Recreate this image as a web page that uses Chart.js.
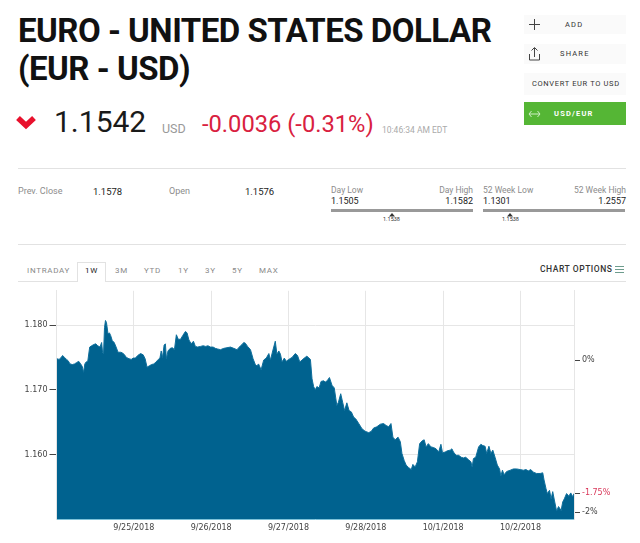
<!DOCTYPE html>
<html>
<head>
<meta charset="utf-8">
<title>EUR - USD</title>
<script src="https://cdn.jsdelivr.net/npm/chart.js@4"></script>
<style>
  html, body { margin: 0; padding: 0; background: #fff; }
  body { width: 640px; height: 543px; position: relative; overflow: hidden; font-family: Roboto, sans-serif; }
  .t { position: absolute; white-space: nowrap; line-height: 1; }
  .title { left: 18px; font-size: 33px; font-weight: 700; color: #111; letter-spacing: -0.5px; }
  .btn { position: absolute; left: 524px; width: 102px; background: #fafafa; font-size: 7.5px; letter-spacing: 1.2px; color: #333; }
  .btn span { position: absolute; white-space: nowrap; line-height: 1; }
  .lab { color: #8c8c8c; font-size: 9px; }
  .val { color: #222; font-size: 9.5px; }
  .hr { position: absolute; left: 18px; width: 608px; height: 1px; background: #e2e2e2; }
  .bar { position: absolute; top: 209px; height: 3px; background: #999; }
  .tab { color: #8a8a8a; font-size: 8px; letter-spacing: .7px; top: 267px; }
  #wrap { position: absolute; left: 0; top: 284px; width: 640px; height: 259px; }
  canvas { display: block; }
</style>
</head>
<body>
<div class="t title" style="top:14px">EURO - UNITED STATES DOLLAR</div>
<div class="t title" style="top:52px">(EUR - USD)</div>

<svg style="position:absolute;left:16px;top:114px" width="20" height="16"><polyline points="2,4 10,11.500 18,4" fill="none" stroke="#e8112d" stroke-width="5.500"/></svg>
<div class="t" style="left:54px;top:107px;font-size:30px;color:#1a1a1a">1.1542</div>
<div class="t" style="left:162px;top:123px;font-size:12.500px;color:#999">USD</div>
<div class="t" style="left:202px;top:113px;font-size:23.700px;color:#d9213f">-0.0036 (-0.31%)</div>
<div class="t" style="left:382px;top:126px;font-size:8.500px;color:#aaa">10:46:34 AM EDT</div>

<div class="btn" style="top:15px;height:19px"><span style="left:41px;top:6px">ADD</span></div>
<svg style="position:absolute;left:528px;top:18px" width="14" height="14"><path d="M1 6.500H12M6.500 1V12" stroke="#444" fill="none"/></svg>
<div class="btn" style="top:44px;height:20px"><span style="left:36px;top:6px">SHARE</span></div>
<svg style="position:absolute;left:528px;top:46px" width="14" height="16"><path d="M1.500 8V14H11.500V8M6.500 11V2M3.500 4.500L6.500 1.500L9.500 4.500" stroke="#444" fill="none"/></svg>
<div class="btn" style="top:73px;height:22px"><span style="left:8px;top:7px;letter-spacing:.65px">CONVERT EUR TO USD</span></div>
<div class="btn" style="top:102px;height:23px;background:#55b635;color:#fff;font-weight:700"><span style="left:30px;top:8px">USD/EUR</span></div>
<svg style="position:absolute;left:528px;top:107px" width="14" height="14"><path d="M1 7H12M3.500 4L1 7L3.500 10M9.500 4L12 7L9.500 10" stroke="#cfeec5" fill="none"/></svg>

<div class="hr" style="top:168px"></div>
<div class="t lab" style="left:18px;top:187px">Prev. Close</div>
<div class="t val" style="left:93px;top:187px">1.1578</div>
<div class="t lab" style="left:169px;top:187px">Open</div>
<div class="t val" style="left:245px;top:187px">1.1576</div>

<div class="t lab" style="left:331px;top:186px;font-size:8.500px">Day Low</div>
<div class="t lab" style="right:167px;top:186px;font-size:8.500px">Day High</div>
<div class="t val" style="left:331px;top:197px;font-size:9px">1.1505</div>
<div class="t val" style="right:167px;top:197px;font-size:9px">1.1582</div>
<div class="bar" style="left:331px;width:142px"></div>
<div class="t" style="left:383px;top:217px;font-size:5.500px;color:#333">1.1538</div>
<svg style="position:absolute;left:389px;top:213px" width="6" height="4"><path d="M0 3.500L3 0L6 3.500Z" fill="#333"/></svg>

<div class="t lab" style="left:483px;top:186px;font-size:8.500px">52 Week Low</div>
<div class="t lab" style="right:14px;top:186px;font-size:8.500px">52 Week High</div>
<div class="t val" style="left:483px;top:197px;font-size:9px">1.1301</div>
<div class="t val" style="right:14px;top:197px;font-size:9px">1.2557</div>
<div class="bar" style="left:483px;width:142px"></div>
<div class="t" style="left:502px;top:217px;font-size:5.500px;color:#333">1.1538</div>
<svg style="position:absolute;left:507px;top:213px" width="6" height="4"><path d="M0 3.500L3 0L6 3.500Z" fill="#333"/></svg>

<div class="hr" style="top:244px"></div>
<div class="hr" style="top:281px"></div>
<div style="position:absolute;left:77px;top:262px;width:29px;height:20px;background:#fff;border:1px solid #e2e2e2;border-bottom:none;box-sizing:border-box"></div>
<div class="t tab" style="left:27px">INTRADAY</div>
<div class="t tab" style="left:85px;color:#222">1W</div>
<div class="t tab" style="left:115px">3M</div>
<div class="t tab" style="left:144px">YTD</div>
<div class="t tab" style="left:178px">1Y</div>
<div class="t tab" style="left:205px">3Y</div>
<div class="t tab" style="left:232px">5Y</div>
<div class="t tab" style="left:259px">MAX</div>
<div class="t" style="left:540px;top:265px;font-size:8.500px;letter-spacing:.55px;font-weight:500;color:#333">CHART OPTIONS</div>
<svg style="position:absolute;left:615px;top:265px" width="10" height="10"><path d="M0 1.500H9M0 4.500H9M0 7.500H9" stroke="#6d9c8d" fill="none"/></svg>

<div id="wrap"><canvas id="priceChart" width="640" height="259"></canvas></div>

<script>
// hours since the 9/24 midnight gridline
const hours = [
  0.1,0.8,1.3,1.9,2.5,3.1,3.6,4.2,4.9,5.6,6.2,6.9,7.5,8.0,8.4,8.8,9.2,9.7,10.3,10.9,
  11.6,12.2,12.8,13.5,14.0,14.3,14.6,14.9,15.2,15.5,16.0,16.4,16.8,17.3,17.9,18.5,19.1,19.9,20.5,21.1,
  21.7,22.5,23.2,23.8,24.5,25.2,26.1,26.9,27.5,28.1,28.8,29.5,30.2,30.9,31.6,32.1,32.5,32.9,33.4,33.8,
  34.1,34.6,35.3,36.0,36.6,37.2,37.8,38.5,39.2,40.0,40.5,41.1,41.8,42.5,43.1,43.8,44.7,45.5,46.3,47.0,
  47.8,48.6,49.3,50.0,50.9,51.9,52.9,54.0,55.0,56.0,57.1,57.6,58.1,58.6,59.3,60.2,61.0,61.7,62.2,62.7,
  63.5,64.3,65.1,65.9,66.4,67.1,67.9,68.4,69.0,69.5,70.0,70.7,71.3,72.1,73.1,74.1,74.8,75.5,76.2,76.9,
  77.7,78.8,79.3,79.8,80.3,80.8,81.5,82.1,82.9,83.4,84.0,84.7,85.5,86.2,87.0,87.5,88.2,88.8,89.4,90.1,
  90.8,91.5,92.2,92.9,93.8,94.8,95.8,96.9,97.7,98.4,99.4,100.5,101.5,102.3,103.1,103.8,104.4,105.1,106.0,106.7,
  107.2,107.9,108.5,109.3,110.1,110.6,111.3,112.0,112.7,113.4,114.1,114.7,115.4,116.2,117.0,117.8,118.6,119.3,119.8,120.6,
  121.3,122.2,122.7,123.2,124.0,124.8,125.6,126.3,127.0,127.9,128.6,129.0,129.4,130.1,131.0,131.7,132.3,133.0,133.5,134.2,
  134.8,135.4,136.1,136.8,137.5,137.9,138.4,138.9,139.7,140.8,141.8,142.8,143.9,144.9,145.7,146.4,147.2,148.0,149.0,150.1,
  150.9,151.3,151.9,152.3,153.0,153.5,154.0,154.5,155.2,155.8,156.6,157.1,157.6,158.3,159.0,159.6,160.2,160.6
];
const prices = [
  1.1748,1.1747,1.1749,1.1753,1.1750,1.1747,1.1745,1.1740,1.1739,1.1740,1.1742,1.1744,1.1740,1.1736,1.1727,1.1740,1.1743,1.1744,1.1766,1.1768,
  1.1770,1.1771,1.1768,1.1766,1.1773,1.1758,1.1756,1.1796,1.1807,1.1804,1.1786,1.1788,1.1784,1.1776,1.1773,1.1766,1.1758,1.1758,1.1757,1.1754,
  1.1750,1.1748,1.1747,1.1749,1.1749,1.1753,1.1756,1.1754,1.1748,1.1735,1.1737,1.1739,1.1740,1.1743,1.1747,1.1749,1.1760,1.1750,1.1769,1.1771,
  1.1748,1.1760,1.1764,1.1765,1.1762,1.1785,1.1778,1.1778,1.1784,1.1790,1.1788,1.1777,1.1771,1.1775,1.1767,1.1766,1.1767,1.1768,1.1767,1.1768,
  1.1766,1.1766,1.1764,1.1763,1.1762,1.1764,1.1765,1.1766,1.1764,1.1762,1.1768,1.1770,1.1773,1.1772,1.1767,1.1762,1.1748,1.1739,1.1737,1.1740,
  1.1731,1.1746,1.1749,1.1756,1.1746,1.1760,1.1775,1.1755,1.1760,1.1755,1.1743,1.1749,1.1744,1.1747,1.1750,1.1756,1.1753,1.1743,1.1746,1.1749,
  1.1752,1.1747,1.1717,1.1705,1.1700,1.1705,1.1703,1.1713,1.1714,1.1712,1.1714,1.1719,1.1707,1.1703,1.1676,1.1681,1.1694,1.1681,1.1668,1.1680,
  1.1668,1.1666,1.1658,1.1655,1.1648,1.1640,1.1636,1.1634,1.1636,1.1641,1.1643,1.1647,1.1648,1.1645,1.1643,1.1648,1.1627,1.1623,1.1627,1.1620,
  1.1602,1.1591,1.1584,1.1580,1.1577,1.1585,1.1581,1.1589,1.1617,1.1621,1.1623,1.1612,1.1617,1.1612,1.1611,1.1609,1.1604,1.1616,1.1603,1.1604,
  1.1606,1.1607,1.1609,1.1604,1.1599,1.1599,1.1596,1.1595,1.1596,1.1592,1.1589,1.1581,1.1594,1.1596,1.1612,1.1616,1.1614,1.1613,1.1602,1.1613,
  1.1602,1.1607,1.1596,1.1584,1.1578,1.1567,1.1576,1.1569,1.1574,1.1576,1.1578,1.1578,1.1577,1.1576,1.1577,1.1575,1.1577,1.1573,1.1571,1.1571,
  1.1572,1.1561,1.1548,1.1540,1.1545,1.1532,1.1543,1.1530,1.1513,1.1520,1.1514,1.1527,1.1532,1.1540,1.1536,1.1541,1.1535,1.1540
];
const dateTicks = [24, 48, 72, 96, 120, 144];
const dateLabels = ['9/25/2018', '9/26/2018', '9/27/2018', '9/28/2018', '10/1/2018', '10/2/2018'];
const priceTicks = [1.16, 1.17, 1.18];
const percentTicks = [0, -1.75, -2];
const percentColors = ['#444', '#d9385a', '#444'];
const baseClose = 1.1746;

const priceMin = 1.15, priceMax = 1.18528;

new Chart(document.getElementById('priceChart'), {
  type: 'line',
  data: {
    datasets: [{
      data: hours.map((h, i) => ({ x: h, y: prices[i] })),
      fill: 'start',
      backgroundColor: '#00628f',
      borderColor: '#0f6f9c',
      borderWidth: 1,
      pointRadius: 0,
      tension: 0
    }]
  },
  options: {
    responsive: false,
    animation: false,
    layout: { padding: { top: 6, left: 0, right: 0, bottom: 0 } },
    plugins: { legend: { display: false }, tooltip: { enabled: false } },
    scales: {
      x: {
        type: 'linear',
        min: 0,
        max: 160.6,
        afterBuildTicks: axis => { axis.ticks = dateTicks.map(v => ({ value: v })); },
        afterFit: axis => { axis.height = 23.5; },
        grid: { color: '#e6e6e6', drawTicks: false },
        border: { color: '#8fd0e4', width: 1 },
        ticks: {
          autoSkip: false,
          maxRotation: 0,
          padding: 4,
          color: '#444',
          font: { family: '"DejaVu Sans"', size: 8 },
          callback: v => dateLabels[dateTicks.indexOf(v)]
        }
      },
      y: {
        position: 'left',
        min: priceMin,
        max: priceMax,
        afterBuildTicks: axis => { axis.ticks = priceTicks.map(v => ({ value: v })); },
        afterFit: axis => { axis.width = 56.5; },
        grid: { color: '#e6e6e6', tickColor: '#444', tickLength: 7 },
        border: { color: '#e6e6e6' },
        ticks: {
          padding: 2,
          color: '#444',
          font: { family: '"DejaVu Sans"', size: 8 },
          callback: v => v.toFixed(3)
        }
      },
      pct: {
        position: 'right',
        min: (priceMin / baseClose - 1) * 100,
        max: (priceMax / baseClose - 1) * 100,
        afterBuildTicks: axis => { axis.ticks = percentTicks.map(v => ({ value: v })); },
        afterFit: axis => { axis.width = 66; },
        grid: { drawOnChartArea: false, tickColor: '#444', tickLength: 6 },
        border: { color: '#e6e6e6' },
        ticks: {
          padding: 2,
          color: ctx => percentColors[ctx.index],
          font: { family: '"DejaVu Sans"', size: 8 },
          callback: v => v + '%'
        }
      }
    }
  }
});
</script>
</body>
</html>
